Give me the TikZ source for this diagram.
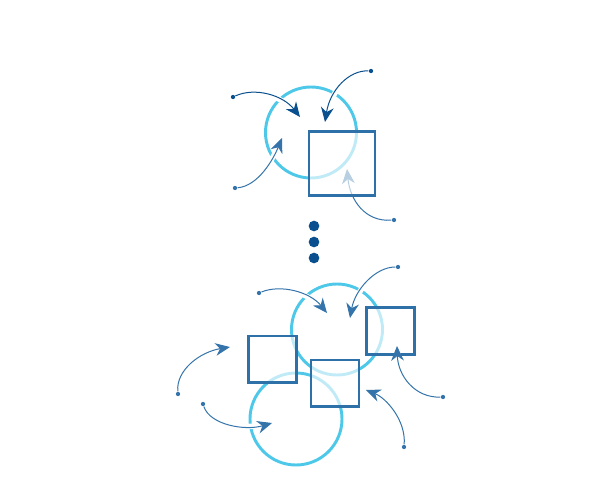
\documentclass[tikz,border=0pt]{standalone}
\usetikzlibrary{arrows.meta}

\definecolor{ringcyan}{RGB}{77,200,232}
\definecolor{boxblue}{RGB}{46,112,168}
\definecolor{flowblue}{RGB}{53,116,170}
\definecolor{navyblue}{RGB}{10,80,142}

\tikzset{every picture/.style={line width=0.75pt}}
\tikzset{
  ring/.style={draw=ringcyan, line width=2.2pt},
  box/.style={draw=boxblue, line width=2.2pt, fill=white, fill opacity=0.65, inner sep=0pt},
  flow/.style={draw=flowblue, -{Stealth[length=11pt,width=9.5pt,inset=3.5pt]},
    preaction={draw=white, line width=4pt, -}},
  flowdark/.style={flow, draw=navyblue},
  tail/.style={circle, fill=flowblue, inner sep=0pt, minimum size=3.2pt},
  taildark/.style={tail, fill=navyblue},
  ellip/.style={circle, fill=navyblue, inner sep=0pt, minimum size=8pt}
}

\begin{document}
\begin{tikzpicture}[x=0.75pt,y=0.75pt,yscale=-1,xscale=1]
\useasboundingbox (0,0) rectangle (600,500);

% upper stage
\draw [ring] (311,132.5) circle (45.5);
\node [tail] (s4) at (394,220) {};
\coordinate (h4) at (347,169);
\draw [flow] (s4) .. controls (365,222) and (350,200) .. (h4);
\node [box, minimum width=49.5pt, minimum height=48pt] (topbox) at (342,163.5) {};

\node [taildark] (s1) at (233,97) {};
\coordinate (h1) at (300,117);
\draw [flowdark] (s1) .. controls (255,87) and (283,95) .. (h1);
\node [taildark] (s2) at (371,71) {};
\coordinate (h2) at (325,122);
\draw [flowdark] (s2) .. controls (349,70) and (330,90) .. (h2);
\node [tail] (s3) at (235,188) {};
\coordinate (h3) at (282,138);
\draw [flow] (s3) .. controls (258,186) and (273,160) .. (h3);

% dots
\node [ellip] (e1) at (314,226) {};
\node [ellip] (e2) at (314,242) {};
\node [ellip] (e3) at (314,258) {};

% lower stage
\draw [ring] (337,329.5) circle (45.5);
\draw [ring] (296,419) circle (46);
\node [box, minimum width=36pt, minimum height=35pt] (boxa) at (272.5,359.3) {};
\node [box, minimum width=36pt, minimum height=35pt] (boxb) at (390.3,331) {};
\node [box, minimum width=36pt, minimum height=35pt] (boxc) at (335,383.3) {};

\node [tail] (sa) at (259,293) {};
\coordinate (ha) at (327,313);
\draw [flow] (sa) .. controls (281,284) and (310,292) .. (ha);
\node [tail] (sb) at (398,267) {};
\coordinate (hb) at (350,318);
\draw [flow] (sb) .. controls (375,267) and (355,290) .. (hb);
\node [tail] (sc) at (178,394) {};
\coordinate (hc) at (230,347);
\draw [flow] (sc) .. controls (176,370) and (200,352) .. (hc);
\node [tail] (sd) at (203,404) {};
\coordinate (hd) at (272,423);
\draw [flow] (sd) .. controls (210,425) and (245,431) .. (hd);
\node [tail] (se) at (443,397) {};
\coordinate (he) at (397,346);
\draw [flow] (se) .. controls (415,398) and (398,376) .. (he);
\node [tail] (sf) at (404,447) {};
\coordinate (hf) at (366,390);
\draw [flow] (sf) .. controls (406,420) and (386,398) .. (hf);

\end{tikzpicture}
\end{document}
